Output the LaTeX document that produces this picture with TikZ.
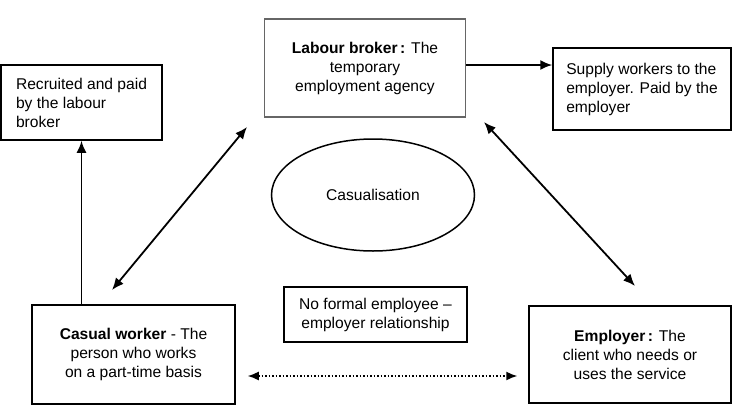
\documentclass[tikz,border=0pt]{standalone}
\usepackage{fontspec}
\setmainfont{Liberation Sans}
\usetikzlibrary{shapes.geometric,arrows.meta}
\begin{document}
\begin{tikzpicture}[x=1pt,y=-1pt,
  every node/.style={font=\fontsize{15.6}{19}\selectfont, inner sep=0pt},
  box/.style={draw, line width=1.5pt, minimum width=#1},
  arr/.style={line width=1.8pt, -{Latex[length=12pt,width=10pt]}},
  darr/.style={line width=1.8pt, {Latex[length=12pt,width=10pt]}-{Latex[length=12pt,width=10pt]}},
  dotarr/.style={line width=1.5pt, dotted, {Latex[length=11pt,width=9pt]}-{Latex[length=11pt,width=9pt]}}]
\useasboundingbox (0,0) rectangle (732,405);
\node[box=201pt, draw=black!60, line width=1.1pt, minimum height=98pt, align=center] (broker) at (365,68)
  {\textbf{Labour broker\,:} The\\temporary\\employment agency};
\node[box=161pt, minimum height=75pt, align=left] (recruit) at (81.5,102.5)
  {Recruited and paid\\by the labour\\broker};
\node[box=178pt, minimum height=82pt, align=left] (supply) at (642,89)
  {Supply workers to the\\employer. Paid by the\\employer};
\node[draw, ellipse, line width=1.5pt, minimum width=203pt, minimum height=112pt] (cas) at (373,195) {Casualisation};
\node[box=183pt, minimum height=55pt, align=center] (noformal) at (375.5,314.5)
  {No formal employee --\\employer relationship};
\node[box=203pt, minimum height=99pt, align=center] (casual) at (133.5,354.5)
  {\textbf{Casual worker} - The\\person who works\\on a part-time basis};
\node[box=202pt, minimum height=97pt, align=center] (employer) at (630,354.5)
  {\textbf{Employer\,:} The\\client who needs or\\uses the service};
\coordinate (l1) at (247,127);
\coordinate (l2) at (112,290);
\coordinate (r1) at (484,122);
\coordinate (r2) at (635,286);
\draw[arr] (recruit.south |- casual.north) -- (recruit.south);
\draw[arr] ([yshift=3pt]broker.east) -- ([yshift=3pt]broker.east -| supply.west);
\draw[darr] (l1) -- (l2);
\draw[darr] (r1) -- (r2);
\draw[dotarr, shorten <=12pt, shorten >=11pt] ([yshift=-21.5pt]casual.east) -- ([yshift=-21.5pt]casual.east -| employer.west);
\end{tikzpicture}
\end{document}
